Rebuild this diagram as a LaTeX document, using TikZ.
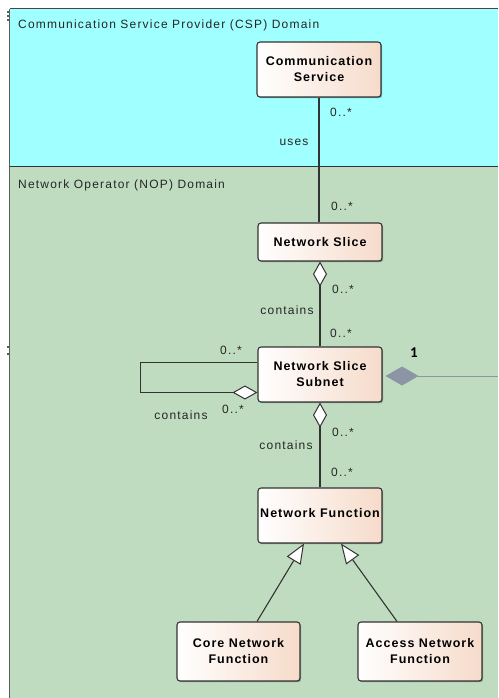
\documentclass[tikz,border=0pt]{standalone}
\usepackage{fontspec}
\setmainfont{Liberation Sans}
\newfontfamily\regf{Liberation Sans}[LetterSpace=10]
\newfontfamily\boldf{Liberation Sans}[LetterSpace=8]
\newfontfamily\onef{Carlito}
\usetikzlibrary{arrows.meta,shadows,calc}
\definecolor{cspcol}{HTML}{A0FFFF}
\definecolor{nopcol}{HTML}{C0DCC0}
\definecolor{peach}{HTML}{F6DBCA}
\definecolor{edgecol}{HTML}{333333}
\definecolor{graydia}{HTML}{8B95A5}
\begin{document}
\begin{tikzpicture}[x=1pt,y=-1pt,
 cls/.style={draw=edgecol, line width=1.1pt, rounded corners=3pt, left color=white, right color=peach,
   align=center, font=\boldf\bfseries\fontsize{12.5}{16}\selectfont, inner sep=0pt,
   drop shadow={shadow xshift=1.2pt, shadow yshift=-1.2pt, opacity=0.3, fill=black}},
 lbl/.style={font=\regf\fontsize{12}{14}\selectfont, inner sep=0pt, text=black!85},
 link/.style={draw=edgecol, line width=1.1pt},
 agg/.style={link, -{Diamond[fill=white, length=25pt, width=14pt, line width=1pt]}},
 gen/.style={link, -{Triangle[fill=white, length=20pt, width=16pt, line width=1pt]}},
 handle/.style={fill=edgecol!80}
]
\useasboundingbox (0,0) rectangle (498,698);
% domains
\fill[white] (0,0) rectangle (498,698);
\fill[cspcol] (10,9) rectangle (498,166);
\fill[nopcol] (10,166) rectangle (498,698);
\draw[edgecol!90, line width=1pt] (10,9) -- (498,9);
\draw[edgecol!80, line width=1.6pt] (9.5,9) -- (9.5,698);
\draw[edgecol, line width=1pt] (10,166) -- (498,166);
\fill[handle] (7,11) rectangle (9,13);
\fill[handle] (7,15) rectangle (9,17);
\fill[handle] (7,19) rectangle (9,21);
\fill[handle] (7,346) rectangle (9,348);
\fill[handle] (7,353) rectangle (9,355);
\node[lbl, anchor=west] (csplbl) at (18,25) {Communication Service Provider (CSP) Domain};
\node[lbl, anchor=west] (noplbl) at (18,185) {Network Operator (NOP) Domain};
% classes
\node[cls, minimum width=124pt, minimum height=55pt] (cs) at (319,69.5) {Communication\\Service};
\node[cls, minimum width=124pt, minimum height=38pt] (ns) at (320,242) {Network Slice};
\node[cls, minimum width=124pt, minimum height=55pt] (nss) at (320,374.5) {Network Slice\\Subnet};
\node[cls, minimum width=124pt, minimum height=55pt] (nf) at (320,515.5) {\raisebox{5pt}{Network Function}};
\node[cls, minimum width=123pt, minimum height=59pt] (cnf) at (238.5,651.5) {Core Network\\Function};
\node[cls, minimum width=124pt, minimum height=59pt] (anf) at (420,651.5) {Access Network\\Function};
% connectors
\draw[link] (cs.south) -- (cs.south |- ns.north);
\draw[agg] (nss.north) -- (ns.south);
\draw[agg] (nf.north) -- (nss.south);
\draw[agg] ([yshift=12pt]nss.west) -- ++(-117,0) |- ([yshift=-18pt]nss.west);
\coordinate (rend) at (498,376);
\draw[draw=graydia, line width=1pt, -{Diamond[fill=graydia, length=33pt, width=19pt]}] (rend) -- ([xshift=3pt, yshift=-1.5pt]nss.east);
\draw[gen] ([xshift=18.5pt]cnf.north) -- ([xshift=-16pt]nf.south);
\draw[gen] ([xshift=-23pt]anf.north) -- ([xshift=21pt]nf.south);
% labels
\node[lbl] (m1) at (341,112) {0..*};
\node[lbl] (uses) at (294,142) {uses};
\node[lbl] (m2) at (342,206) {0..*};
\node[lbl] (m3) at (343,289) {0..*};
\node[lbl] (c1) at (287,310) {contains};
\node[lbl] (m4) at (341,333) {0..*};
\node[lbl] (m5) at (231,350) {0..*};
\node[lbl] (m6) at (233,409) {0..*};
\node[lbl] (c2) at (181,415) {contains};
\node[lbl] (m7) at (343,432) {0..*};
\node[lbl] (c3) at (286,445) {contains};
\node[lbl] (m8) at (342,472) {0..*};
\node[font=\onef\bfseries\fontsize{15}{17}\selectfont, inner sep=0pt] (one) at (414,353) {1};
\end{tikzpicture}
\end{document}
